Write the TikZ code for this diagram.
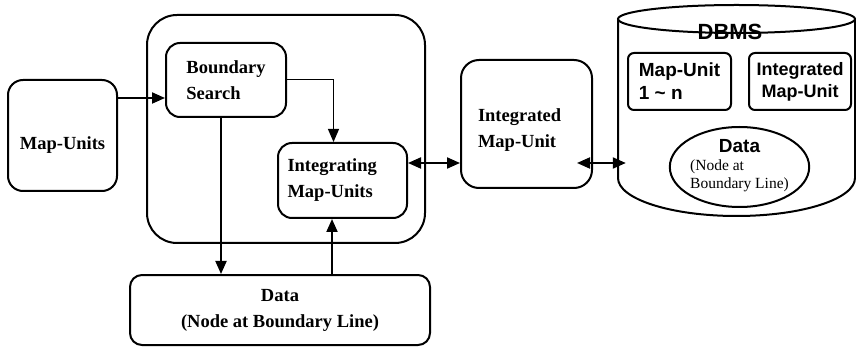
\documentclass[tikz,border=0pt]{standalone}
\usepackage{fontspec}
\setmainfont{Liberation Serif}
\newfontfamily\dbfont{Liberation Sans}
\usepackage{tikz}
\usetikzlibrary{arrows.meta, positioning, shapes.geometric}
\tikzset{
  unit/.style={
    rectangle, rounded corners=14pt, draw=black, line width=2pt,
    inner sep=0pt, align=left,
    font=\fontsize{18.5}{26}\selectfont\bfseries
  },
  frame/.style={
    rectangle, rounded corners=30pt, draw=black, line width=2pt
  },
  record/.style={
    rectangle, rounded corners=6pt, draw=black, line width=2pt,
    inner sep=0pt, align=left,
    font=\dbfont\fontsize{19}{23}\selectfont\bfseries
  },
  cloudpts/.style={
    ellipse, draw=black, line width=2pt, inner sep=0pt,
    font=\fontsize{15.5}{20}\selectfont
  },
  wall/.style={line width=2pt, draw=black},
  arrow/.style={-{Triangle[length=13pt,width=11pt]}, line width=2pt, draw=black},
  thinarrow/.style={-{Triangle[length=13pt,width=11pt]}, line width=1pt, draw=black},
  darrow/.style={{Triangle[length=13pt,width=11pt]}-{Triangle[length=13pt,width=11pt]},
    line width=2pt, draw=black}
}
\begin{document}
\begin{tikzpicture}[x=1pt,y=-1pt]
\useasboundingbox (0,0) rectangle (856,347);

% Integration module
\node[frame, minimum width=278pt, minimum height=228pt] (module) at (286,129) {};

\node[unit, align=center, rounded corners=15pt, text height=31pt,
      minimum width=109pt, minimum height=111pt] (mapunits) at (62.5,135.5) {Map-Units};

\node[unit, minimum width=120pt, minimum height=74pt] (search) at (226,80)
  {Boundary\\Search};

\node[unit, minimum width=129pt, minimum height=75pt, text width=110pt]
  (integrating) at (342.5,180.5) {Integrating\\Map-Units};

\node[unit, align=center, rounded corners=12pt,
      minimum width=300pt, minimum height=70pt] (data) at (280,310)
  {Data\\(Node at Boundary Line)};

\node[unit, rounded corners=18pt, minimum width=131pt, minimum height=128pt,
      text width=97pt, text height=27pt, text depth=31pt]
  (integrated) at (526.5,124) {Integrated\\Map-Unit};

% DBMS store
\node[minimum width=237pt, minimum height=206pt] (dbms) at (736.5,112) {};
\draw[wall] (736.5,19) ellipse[x radius=118.5, y radius=14];
\draw[wall] (618,19) -- (618,178)
  arc[start angle=180, end angle=0, x radius=118.5, y radius=38] -- (855,19);
\node[font=\dbfont\fontsize{22}{22}\selectfont\bfseries] (dbmslabel) at (730,32) {DBMS};

\node[record, minimum width=103pt, minimum height=57pt] (stored) at (679.5,81.5)
  {Map-Unit\\1 \textasciitilde{} n};
\node[record, align=center, font=\dbfont\fontsize{18}{22}\selectfont\bfseries,
      minimum width=102pt, minimum height=57pt] (merged) at (800,81.5)
  {Integrated\\Map-Unit};

\node[cloudpts, minimum width=137pt, minimum height=80pt] (points) at (739.5,167)
  {\begin{tabular}{@{}l@{}}
   \multicolumn{1}{@{}c@{}}{\dbfont\bfseries\fontsize{19}{21}\selectfont Data}\\[-2pt]
   (Node at\\[-2pt]
   Boundary Line)
   \end{tabular}};

% Arrows
\coordinate (feed) at (0,98);
\coordinate (link) at (0,163);
\draw[arrow] (mapunits.east |- feed) -- (search.west |- feed);
\draw[thinarrow] (search.east) -| ([xshift=-9pt]integrating.north);
\draw[arrow] ([xshift=-5pt]search.south) -- ([xshift=-5pt]search.south |- data.north);
\draw[arrow] ([xshift=52pt]data.north) -- ([xshift=52pt]data.north |- integrating.south);
\draw[darrow] (integrating.east |- link) -- (integrated.west |- link);
\draw[darrow] ([xshift=-16pt]integrated.east |- link) -- ([xshift=8pt]dbms.west |- link);

\end{tikzpicture}
\end{document}
